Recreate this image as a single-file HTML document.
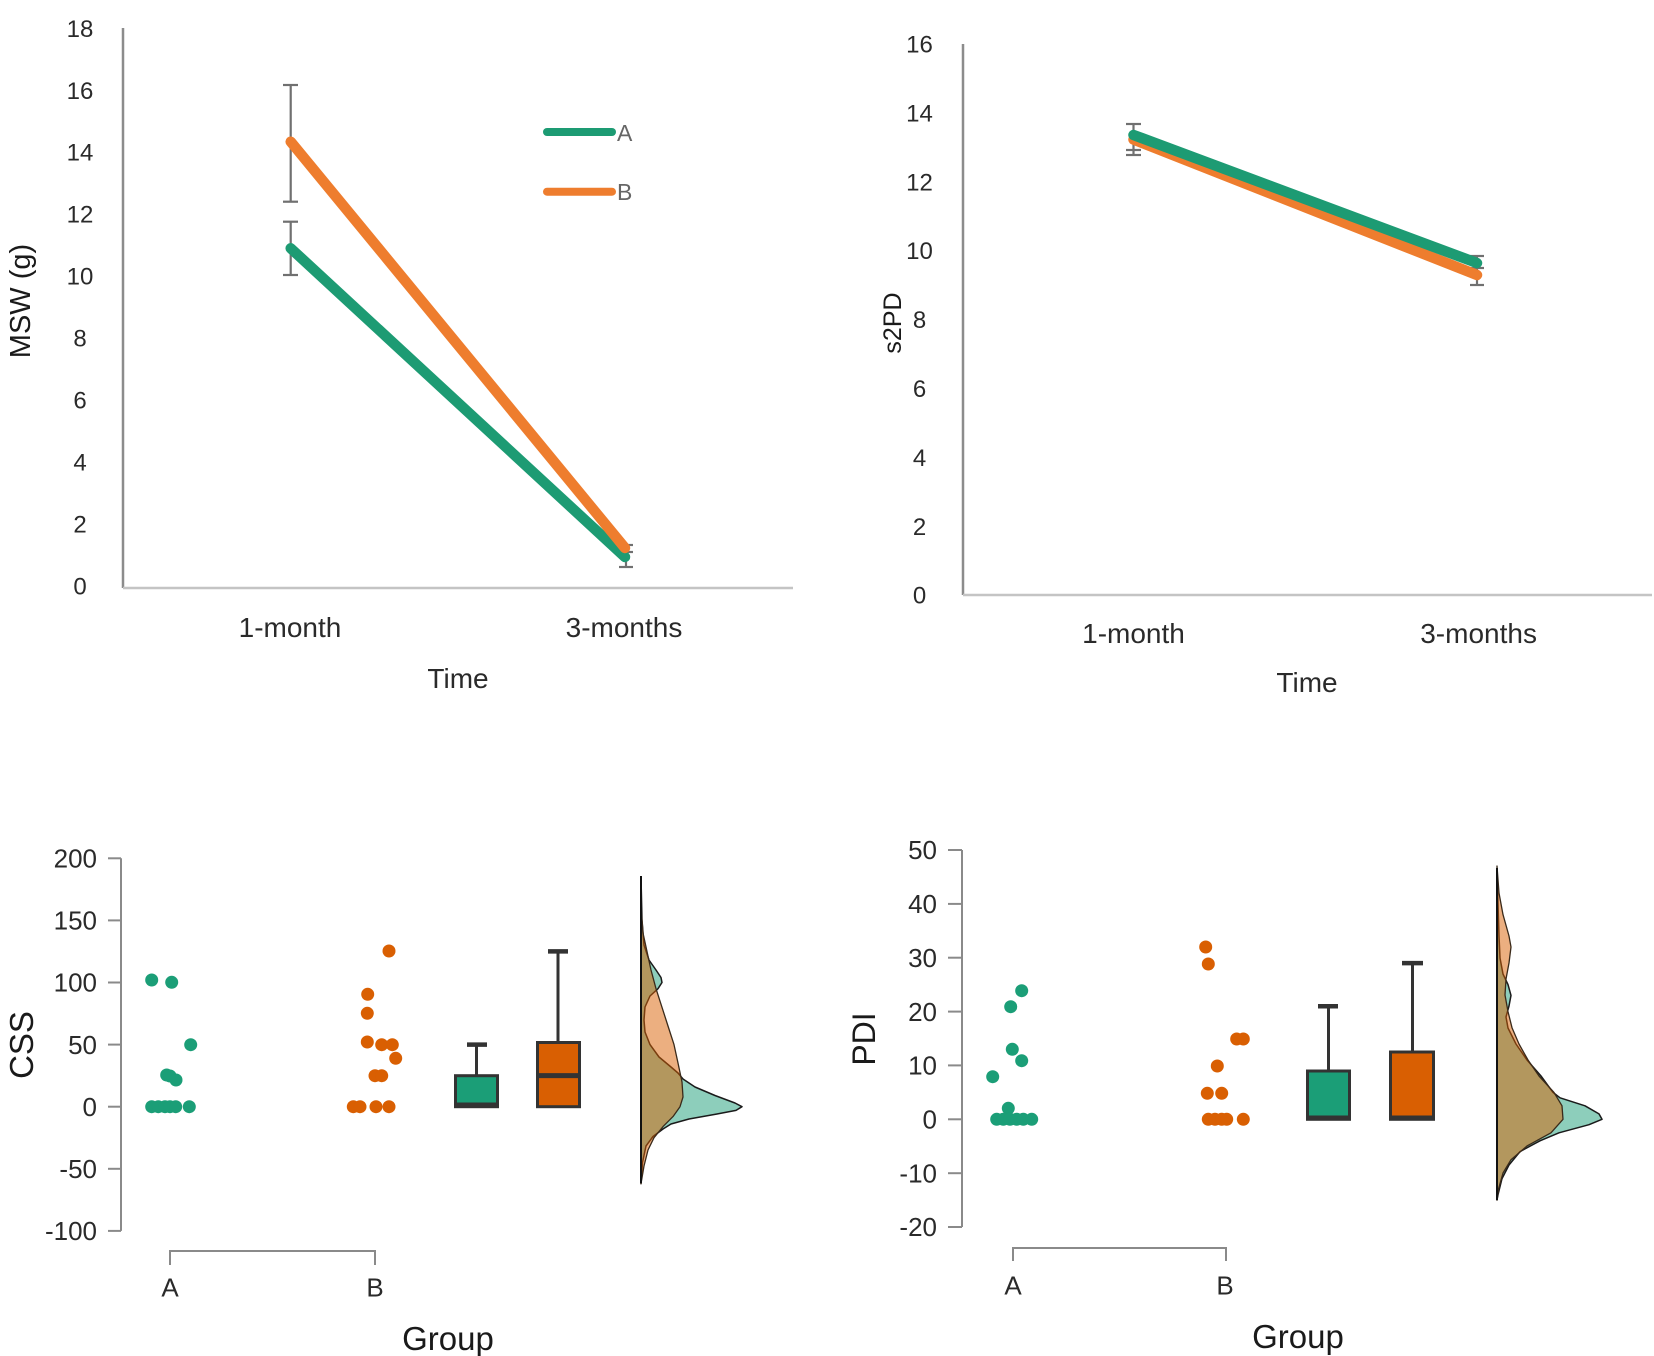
<!DOCTYPE html>
<html>
<head>
<meta charset="utf-8">
<style>
  html,body{margin:0;padding:0;background:#fff;}
  svg{display:block;}
  .tk{font-family:"Liberation Sans",sans-serif;fill:#2a2a2a;}
  .rt{font-family:"Liberation Sans",sans-serif;fill:#1a1a1a;}
</style>
</head>
<body>
<svg width="1654" height="1356" viewBox="0 0 1654 1356" xmlns="http://www.w3.org/2000/svg">
  <rect x="0" y="0" width="1654" height="1356" fill="#fff"/>

  <!-- ================= TOP LEFT: MSW ================= -->
  <g>
    <line x1="123" y1="28" x2="123" y2="588" stroke="#8c8c8c" stroke-width="2.5"/>
    <line x1="123" y1="588" x2="793" y2="588" stroke="#c4c4c4" stroke-width="2.5"/>
    <g class="tk" font-size="24" text-anchor="middle">
      <text x="80" y="36.8">18</text>
      <text x="80" y="98.8">16</text>
      <text x="80" y="160.7">14</text>
      <text x="80" y="222.7">12</text>
      <text x="80" y="284.6">10</text>
      <text x="80" y="346.6">8</text>
      <text x="80" y="408.5">6</text>
      <text x="80" y="470.5">4</text>
      <text x="80" y="532.4">2</text>
      <text x="80" y="594.4">0</text>
    </g>
    <g class="tk" font-size="28" text-anchor="middle">
      <text x="290" y="637">1-month</text>
      <text x="624" y="637">3-months</text>
      <text x="458" y="688">Time</text>
    </g>
    <text class="rt" font-size="29" text-anchor="middle" transform="translate(30,301) rotate(-90)">MSW (g)</text>

    <g stroke="#707070" stroke-width="2.2" fill="none">
      <line x1="290.7" y1="85" x2="290.7" y2="201.7"/>
      <line x1="283" y1="85" x2="298" y2="85"/>
      <line x1="283" y1="201.7" x2="298" y2="201.7"/>
      <line x1="290.7" y1="221.7" x2="290.7" y2="275"/>
      <line x1="283" y1="221.7" x2="298" y2="221.7"/>
      <line x1="283" y1="275" x2="298" y2="275"/>
      <line x1="626" y1="545" x2="626" y2="567"/>
      <line x1="619" y1="545" x2="633" y2="545"/>
      <line x1="619" y1="552" x2="633" y2="552"/>
      <line x1="619" y1="567" x2="633" y2="567"/>
    </g>
    <line x1="290.7" y1="248.3" x2="625" y2="557" stroke="#1d9b73" stroke-width="10.5" stroke-linecap="round"/>
    <line x1="290.7" y1="141.7" x2="625" y2="548" stroke="#ee7d2e" stroke-width="10.5" stroke-linecap="round"/>
    <line x1="547" y1="132" x2="612" y2="132" stroke="#1d9b73" stroke-width="8" stroke-linecap="round"/>
    <line x1="547" y1="191.7" x2="612" y2="191.7" stroke="#ee7d2e" stroke-width="8" stroke-linecap="round"/>
    <g font-family="Liberation Sans, sans-serif" font-size="23" fill="#666">
      <text x="617" y="141">A</text>
      <text x="617" y="200">B</text>
    </g>
  </g>

  <!-- ================= TOP RIGHT: s2PD ================= -->
  <g>
    <line x1="963" y1="44" x2="963" y2="595" stroke="#8c8c8c" stroke-width="2.5"/>
    <line x1="963" y1="595" x2="1652" y2="595" stroke="#c4c4c4" stroke-width="2.5"/>
    <g class="tk" font-size="24" text-anchor="middle">
      <text x="919.5" y="52.5">16</text>
      <text x="919.5" y="121.4">14</text>
      <text x="919.5" y="190.3">12</text>
      <text x="919.5" y="259.2">10</text>
      <text x="919.5" y="328.1">8</text>
      <text x="919.5" y="397">6</text>
      <text x="919.5" y="465.9">4</text>
      <text x="919.5" y="534.8">2</text>
      <text x="919.5" y="603.5">0</text>
    </g>
    <g class="tk" font-size="28" text-anchor="middle">
      <text x="1133.5" y="643">1-month</text>
      <text x="1478.6" y="643">3-months</text>
      <text x="1307" y="692">Time</text>
    </g>
    <text class="rt" font-size="25" text-anchor="middle" transform="translate(901,323) rotate(-90)">s2PD</text>

    <g stroke="#707070" stroke-width="2.2" fill="none">
      <line x1="1133.5" y1="124" x2="1133.5" y2="155"/>
      <line x1="1126" y1="124" x2="1141" y2="124"/>
      <line x1="1126" y1="150" x2="1141" y2="150"/>
      <line x1="1126" y1="155" x2="1141" y2="155"/>
      <line x1="1477" y1="256" x2="1477" y2="285"/>
      <line x1="1470" y1="256" x2="1484" y2="256"/>
      <line x1="1470" y1="268" x2="1484" y2="268"/>
      <line x1="1470" y1="285" x2="1484" y2="285"/>
    </g>
    <line x1="1133.5" y1="139.5" x2="1477" y2="275" stroke="#ee7d2e" stroke-width="10.5" stroke-linecap="round"/>
    <line x1="1133.5" y1="135" x2="1477" y2="263" stroke="#1d9b73" stroke-width="10.5" stroke-linecap="round"/>
  </g>

  <!-- ================= BOTTOM LEFT: CSS ================= -->
  <g>
    <g stroke="#8a8a8a" stroke-width="2" fill="none">
      <line x1="121" y1="858.3" x2="121" y2="1230.9"/>
      <line x1="108" y1="858.3" x2="121" y2="858.3"/>
      <line x1="108" y1="920.4" x2="121" y2="920.4"/>
      <line x1="108" y1="982.5" x2="121" y2="982.5"/>
      <line x1="108" y1="1044.6" x2="121" y2="1044.6"/>
      <line x1="108" y1="1106.7" x2="121" y2="1106.7"/>
      <line x1="108" y1="1168.8" x2="121" y2="1168.8"/>
      <line x1="108" y1="1230.9" x2="121" y2="1230.9"/>
      <polyline points="170,1265 170,1251 375,1251 375,1265"/>
    </g>
    <g class="tk" font-size="26" text-anchor="end">
      <text x="97" y="867.5">200</text>
      <text x="97" y="929.6">150</text>
      <text x="97" y="991.7">100</text>
      <text x="97" y="1053.8">50</text>
      <text x="97" y="1115.9">0</text>
      <text x="97" y="1178">-50</text>
      <text x="97" y="1240.1">-100</text>
    </g>
    <g class="tk" font-size="26" text-anchor="middle">
      <text x="170" y="1296.5">A</text>
      <text x="375" y="1296.5">B</text>
    </g>
    <text class="rt" font-size="33" text-anchor="middle" x="448" y="1350">Group</text>
    <text class="rt" font-size="33" text-anchor="middle" transform="translate(33,1045) rotate(-90)">CSS</text>

    <g fill="#1b9e77">
      <circle cx="151.7" cy="980" r="6.5"/>
      <circle cx="171.7" cy="982.3" r="6.5"/>
      <circle cx="190.7" cy="1044.7" r="6.5"/>
      <circle cx="166.7" cy="1075" r="6.5"/>
      <circle cx="170" cy="1076" r="6.5"/>
      <circle cx="176" cy="1080" r="6.5"/>
      <circle cx="151.7" cy="1106.7" r="6.5"/>
      <circle cx="158.3" cy="1106.7" r="6.5"/>
      <circle cx="165" cy="1106.7" r="6.5"/>
      <circle cx="170" cy="1106.7" r="6.5"/>
      <circle cx="175.7" cy="1106.7" r="6.5"/>
      <circle cx="189.3" cy="1106.7" r="6.5"/>
    </g>
    <g fill="#d95f02">
      <circle cx="389" cy="951" r="6.5"/>
      <circle cx="367.7" cy="994.3" r="6.5"/>
      <circle cx="367.3" cy="1013.3" r="6.5"/>
      <circle cx="367.3" cy="1042" r="6.5"/>
      <circle cx="381.7" cy="1044.7" r="6.5"/>
      <circle cx="392.3" cy="1044.7" r="6.5"/>
      <circle cx="395.7" cy="1058.3" r="6.5"/>
      <circle cx="375" cy="1075.7" r="6.5"/>
      <circle cx="381.7" cy="1075.7" r="6.5"/>
      <circle cx="353.3" cy="1106.7" r="6.5"/>
      <circle cx="360" cy="1106.7" r="6.5"/>
      <circle cx="376" cy="1106.7" r="6.5"/>
      <circle cx="389" cy="1106.7" r="6.5"/>
    </g>

    <g stroke="#333" stroke-width="3">
      <line x1="476.5" y1="1044.6" x2="476.5" y2="1075.7"/>
      <line x1="467" y1="1044.6" x2="487" y2="1044.6" stroke-width="4.5"/>
      <rect x="455.5" y="1075.7" width="42" height="31" fill="#1b9e77"/>
      <line x1="455.5" y1="1105" x2="497.5" y2="1105" stroke-width="5"/>
      <line x1="558" y1="951.4" x2="558" y2="1042.5"/>
      <line x1="548" y1="951.4" x2="568" y2="951.4" stroke-width="4.5"/>
      <rect x="537.5" y="1042.5" width="42" height="64.2" fill="#d95f02"/>
      <line x1="537.5" y1="1075.6" x2="579.5" y2="1075.6" stroke-width="5"/>
    </g>

    <polygon points="641,877 642,920 644,945 649,960 656,970 661,977.5 662,982.5 658,988.7 650,996 645,1007 644,1020 645,1032 650,1044.6 659,1057 671,1067 678,1073 683,1079 695,1087 715,1095.5 735,1103 742,1106.7 736,1110.4 717,1114 689,1119 671,1124 663,1129 653,1136.5 646,1146 642.5,1162.6 641,1183.7"
      fill="#1b9e77" fill-opacity="0.5" stroke="#1a1a1a" stroke-width="1.5" stroke-linejoin="round"/>
    <polygon points="641,908 643,933 647,951.5 651,970 656,988.7 662,1007.3 668,1026 674,1044.6 678,1063 682,1082 683,1097 680,1106.7 673,1116.6 663,1126.6 654,1137.7 648,1150 644,1166 641,1183.7"
      fill="#d95f02" fill-opacity="0.5" stroke="#3a2a1a" stroke-width="1.3" stroke-linejoin="round"/>
    <line x1="641" y1="876" x2="641" y2="1183" stroke="#111" stroke-width="2"/>
  </g>

  <!-- ================= BOTTOM RIGHT: PDI ================= -->
  <g>
    <g stroke="#8a8a8a" stroke-width="2" fill="none">
      <line x1="962" y1="850" x2="962" y2="1227"/>
      <line x1="948" y1="850" x2="962" y2="850"/>
      <line x1="948" y1="903.9" x2="962" y2="903.9"/>
      <line x1="948" y1="957.7" x2="962" y2="957.7"/>
      <line x1="948" y1="1011.6" x2="962" y2="1011.6"/>
      <line x1="948" y1="1065.4" x2="962" y2="1065.4"/>
      <line x1="948" y1="1119.3" x2="962" y2="1119.3"/>
      <line x1="948" y1="1173.2" x2="962" y2="1173.2"/>
      <line x1="948" y1="1227" x2="962" y2="1227"/>
      <polyline points="1013,1261 1013,1248 1226,1248 1226,1261"/>
    </g>
    <g class="tk" font-size="26" text-anchor="end">
      <text x="937" y="859.2">50</text>
      <text x="937" y="913.1">40</text>
      <text x="937" y="966.9">30</text>
      <text x="937" y="1020.8">20</text>
      <text x="937" y="1074.6">10</text>
      <text x="937" y="1128.5">0</text>
      <text x="937" y="1182.4">-10</text>
      <text x="937" y="1236.2">-20</text>
    </g>
    <g class="tk" font-size="26" text-anchor="middle">
      <text x="1013" y="1294.5">A</text>
      <text x="1225" y="1294.5">B</text>
    </g>
    <text class="rt" font-size="33" text-anchor="middle" x="1298" y="1348">Group</text>
    <text class="rt" font-size="32" text-anchor="middle" transform="translate(875,1039) rotate(-90)">PDI</text>

    <g fill="#1b9e77">
      <circle cx="1021.7" cy="990.7" r="6.5"/>
      <circle cx="1010.7" cy="1006.7" r="6.5"/>
      <circle cx="1012.3" cy="1049.3" r="6.5"/>
      <circle cx="1021.7" cy="1060.7" r="6.5"/>
      <circle cx="992.7" cy="1076.7" r="6.5"/>
      <circle cx="1008.3" cy="1108.3" r="6.5"/>
      <circle cx="996.7" cy="1119.3" r="6.5"/>
      <circle cx="1003.3" cy="1119.3" r="6.5"/>
      <circle cx="1010" cy="1119.3" r="6.5"/>
      <circle cx="1016.7" cy="1119.3" r="6.5"/>
      <circle cx="1023.3" cy="1119.3" r="6.5"/>
      <circle cx="1031.7" cy="1119.3" r="6.5"/>
    </g>
    <g fill="#d95f02">
      <circle cx="1205.7" cy="947" r="6.5"/>
      <circle cx="1208.3" cy="964" r="6.5"/>
      <circle cx="1236.7" cy="1039" r="6.5"/>
      <circle cx="1243.3" cy="1039" r="6.5"/>
      <circle cx="1217.3" cy="1066" r="6.5"/>
      <circle cx="1207.3" cy="1093.3" r="6.5"/>
      <circle cx="1221.7" cy="1093.3" r="6.5"/>
      <circle cx="1208.3" cy="1119.3" r="6.5"/>
      <circle cx="1215" cy="1119.3" r="6.5"/>
      <circle cx="1221.7" cy="1119.3" r="6.5"/>
      <circle cx="1226.7" cy="1119.3" r="6.5"/>
      <circle cx="1243.3" cy="1119.3" r="6.5"/>
    </g>

    <g stroke="#333" stroke-width="3">
      <line x1="1328.5" y1="1006.2" x2="1328.5" y2="1071"/>
      <line x1="1318" y1="1006.2" x2="1338" y2="1006.2" stroke-width="4.5"/>
      <rect x="1307.5" y="1071" width="42" height="48.3" fill="#1b9e77"/>
      <line x1="1307.5" y1="1118" x2="1349.5" y2="1118" stroke-width="5"/>
      <line x1="1412.5" y1="963.1" x2="1412.5" y2="1052"/>
      <line x1="1402" y1="963.1" x2="1423" y2="963.1" stroke-width="4.5"/>
      <rect x="1390.5" y="1052" width="43" height="67.3" fill="#d95f02"/>
      <line x1="1390.5" y1="1118" x2="1433.5" y2="1118" stroke-width="5"/>
    </g>

    <polygon points="1497,871.5 1498,904 1499,936 1500,958 1503,974 1508,984.6 1511,995.4 1509,1006 1506,1017 1508,1028 1516,1044 1527,1060 1541,1076 1553,1092.4 1560,1097.8 1585,1105.8 1599,1113.9 1602,1119.3 1589,1124.7 1559,1132.8 1540,1140.8 1520,1151.6 1509,1165 1502,1178.6 1498,1194.7 1497,1200"
      fill="#1b9e77" fill-opacity="0.5" stroke="#1a1a1a" stroke-width="1.5" stroke-linejoin="round"/>
    <polygon points="1497,866 1499,893 1503,914.6 1509,936 1511,947 1509,963 1506,979 1505,995 1508,1011.6 1512,1027.7 1519,1044 1528,1060 1539,1076 1554,1092.4 1562,1105.8 1563,1119.3 1551,1132.8 1527,1146 1511,1159.7 1503,1173 1498.5,1189 1497,1200"
      fill="#d95f02" fill-opacity="0.5" stroke="#3a2a1a" stroke-width="1.3" stroke-linejoin="round"/>
    <line x1="1497" y1="868" x2="1497" y2="1200" stroke="#111" stroke-width="2"/>
  </g>
</svg>
</body>
</html>
